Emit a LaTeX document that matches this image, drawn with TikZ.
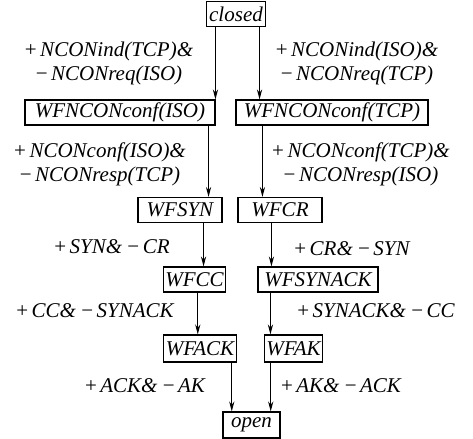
\documentclass[tikz,border=0pt]{standalone}
\usepackage{fontspec}
\setmainfont{Liberation Serif}
\usetikzlibrary{arrows.meta}
\newcommand{\plusop}{{\upshape +}\,}
\newcommand{\minusop}{{\upshape −}\,}

\begin{document}
\begin{tikzpicture}[x=0.5pt, y=-0.5pt,
    every node/.style={align=center, font=\fontsize{10.5}{12}\selectfont\itshape},
    state/.style={draw, line width=0.55pt, minimum height=12.5pt, inner xsep=1pt, inner ysep=0pt},
    trans/.style={-{Stealth[length=5pt,width=2.6pt]}, line width=0.55pt}]
    \useasboundingbox (0,0) rectangle (473,439);

    \node[state, minimum width=29.5pt] (closed) at (236,14) {closed};
    \node[state, minimum width=95pt] (wfiso) at (120,112.5) {WFNCONconf(ISO)};
    \node[state, minimum width=96pt] (wftcp) at (332,112.5) {WFNCONconf(TCP)};
    \node[state, minimum width=42pt] (wfsyn) at (180,210) {WFSYN};
    \node[state, minimum width=42pt] (wfcr) at (280,210) {WFCR};
    \node[state, minimum width=27.5pt] (wfcc) at (194.5,279.5) {WFCC};
    \node[state, minimum width=60pt] (wfsynack) at (318,279.5) {WFSYNACK};
    \node[state, minimum width=34pt, minimum height=13.5pt] (wfack) at (200,348.5) {WFACK};
    \node[state, minimum width=28.5pt, minimum height=13.5pt] (wfak) at (293.5,348.5) {WFAK};
    \node[state, minimum width=28.5pt, minimum height=13pt] (open) at (251.5,425) {open};

    \node (lisoa) at (109,63) {\plusop NCONind(TCP)\&\\\minusop NCONreq(ISO)};
    \node (ltcpa) at (357,63) {\plusop NCONind(ISO)\&\\\minusop NCONreq(TCP)};
    \node (lisob) at (100,164) {\plusop NCONconf(ISO)\&\\\minusop NCONresp(TCP)};
    \node (ltcpb) at (361,164) {\plusop NCONconf(TCP)\&\\\minusop NCONresp(ISO)};
    \node (lsyn) at (112,247) {\plusop SYN\& \minusop CR};
    \node (lcr) at (352,249) {\plusop CR\& \minusop SYN};
    \node (lcc) at (95,311) {\plusop CC\& \minusop SYNACK};
    \node (lsynack) at (376,311) {\plusop SYNACK\& \minusop CC};
    \node (lack) at (145,386) {\plusop ACK\& \minusop AK};
    \node (lak) at (341,386) {\plusop AK\& \minusop ACK};

    \draw[trans] ([xshift=4.75pt]closed.south west) -- ([xshift=4.75pt]closed.south west |- wfiso.north);
    \draw[trans] ([xshift=-3.25pt]closed.south east) -- ([xshift=-3.25pt]closed.south east |- wftcp.north);
    \draw[trans] ([xshift=-3.5pt]wfiso.south east) -- ([xshift=-3.5pt]wfiso.south east |- wfsyn.north);
    \draw[trans] ([xshift=13.5pt]wftcp.south west) -- ([xshift=13.5pt]wftcp.south west |- wfcr.north);
    \draw[trans] ([xshift=-9.5pt]wfsyn.south east) -- ([xshift=-9.5pt]wfsyn.south east |- wfcc.north);
    \draw[trans] ([xshift=17pt]wfcr.south west) -- ([xshift=17pt]wfcr.south west |- wfsynack.north);
    \draw[trans] ([xshift=17.5pt]wfcc.south west) -- ([xshift=17.5pt]wfcc.south west |- wfack.north);
    \draw[trans] ([xshift=6.5pt]wfsynack.south west) -- ([xshift=6.5pt]wfsynack.south west |- wfak.north);
    \draw[trans] ([xshift=-2.5pt]wfack.south east) -- ([xshift=-2.5pt]wfack.south east |- open.north);
    \draw[trans] ([xshift=3.5pt]wfak.south west) -- ([xshift=3.5pt]wfak.south west |- open.north);
\end{tikzpicture}
\end{document}
